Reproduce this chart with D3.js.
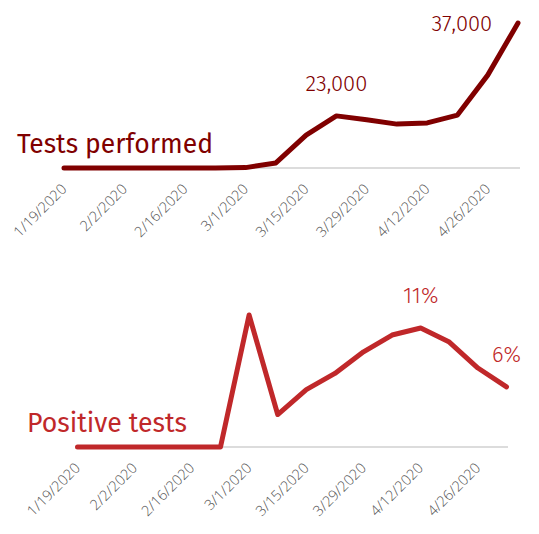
<!DOCTYPE html>
<html>
<head>
<meta charset="utf-8">
<script src="https://cdn.jsdelivr.net/npm/d3@7"></script>
<style>
  html, body { margin: 0; padding: 0; background: #fff; }
  svg { display: block; }
  text { font-family: "Fira Sans", "Open Sans", "Noto Sans", sans-serif; }
</style>
</head>
<body>
<svg id="chart" width="539" height="534"></svg>
<script>
// ---- data ----
const weeks = ["2020-01-19","2020-01-26","2020-02-02","2020-02-09","2020-02-16","2020-02-23",
               "2020-03-01","2020-03-08","2020-03-15","2020-03-22","2020-03-29","2020-04-05",
               "2020-04-12","2020-04-19","2020-04-26","2020-05-03"];
const testsPerformed = [0,0,0,0,0,0,100,1300,8400,13300,12300,11200,11500,13500,23700,37000];
const positiveShare = [0,0,0,0,0,0,12.2,3.0,5.3,6.8,8.8,10.35,11.0,9.7,7.3,5.55];
const tickDates = ["2020-01-19","2020-02-02","2020-02-16","2020-03-01","2020-03-15","2020-03-29","2020-04-12","2020-04-26"];
const titles = ["Tests performed", "Positive tests"];
const topNotes = [{date:"2020-03-22", text:"23,000"}, {date:"2020-04-20", text:"37,000"}];
const bottomNotes = [{date:"2020-04-12", text:"11%"}, {date:"2020-05-03", text:"6%"}];

const parse = d3.utcParse("%Y-%m-%d");
const fmt = d3.utcFormat("%-m/%-d/%Y");
const dates = weeks.map(parse);
const ticks = tickDates.map(parse);

const svg = d3.select("#chart");

function panel(cfg) {
  const x = d3.scaleUtc().domain([dates[0], dates[dates.length-1]]).range(cfg.xr);
  const y = d3.scaleLinear().domain(cfg.yd).range(cfg.yr);
  const g = svg.append("g");

  // baseline
  g.append("line")
    .attr("x1", cfg.xr[0]).attr("x2", cfg.baseEnd)
    .attr("y1", y(0)).attr("y2", y(0))
    .attr("stroke", "#dcdcdc").attr("stroke-width", 2);

  // axis labels
  const axis = d3.axisBottom(x).tickValues(ticks).tickFormat(fmt).tickSize(0).tickPadding(0);
  const ax = g.append("g").attr("transform", `translate(0,${y(0)})`).call(axis);
  ax.attr("font-size", null).attr("font-family", null);
  ax.select(".domain").remove();
  ax.selectAll("text")
    .style("fill", "#555")
    .style("font-family", "'Open Sans', 'Noto Sans', sans-serif")
    .style("font-size", "14.5px")
    .style("font-weight", "300")
    .attr("text-anchor", "end")
    .attr("dy", null)
    .attr("y", 0)
    .attr("transform", "translate(3,22) rotate(-45)");

  // line
  g.append("path")
    .datum(cfg.values)
    .attr("fill", "none")
    .attr("stroke", cfg.color)
    .attr("stroke-width", 5)
    .attr("stroke-linecap", "round")
    .attr("stroke-linejoin", "round")
    .attr("d", d3.line().x((d,i) => x(dates[i])).y(d => y(d)));

  // title
  g.append("text")
    .attr("x", cfg.title.x).attr("y", cfg.title.y)
    .attr("fill", cfg.color)
    .style("font-size", "27px")
    .attr("textLength", cfg.title.w)
    .attr("lengthAdjust", "spacingAndGlyphs")
    .text(cfg.title.text);

  // annotations
  g.selectAll("text.note").data(cfg.notes).join("text")
    .attr("class", "note")
    .attr("x", d => x(parse(d.date)))
    .attr("y", (d,i) => cfg.noteY[i])
    .attr("text-anchor", "middle")
    .attr("fill", cfg.color)
    .style("font-size", "22px")
    .style("font-weight", "300")
    .text(d => d.text);
}

panel({
  xr: [64, 518], baseEnd: 520,
  yd: [0, 37000], yr: [168, 23],
  values: testsPerformed, color: "#800000",
  title: {text: titles[0], x: 17, y: 153, w: 196},
  notes: topNotes, noteY: [91, 31]
});

panel({
  xr: [77.5, 506.5], baseEnd: 508,
  yd: [0, 11], yr: [447, 328],
  values: positiveShare, color: "#c0282a",
  title: {text: titles[1], x: 27, y: 432, w: 160},
  notes: bottomNotes, noteY: [303, 362]
});
</script>
</body>
</html>
